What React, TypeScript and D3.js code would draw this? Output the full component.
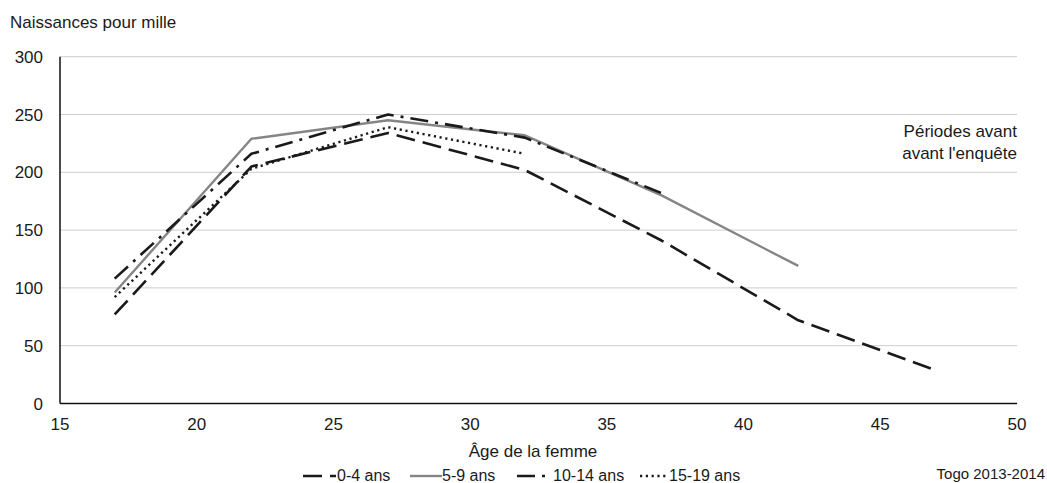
import * as d3 from 'd3';

const ages = [17, 22, 27, 32, 37, 42, 47];
const periodes = ['0-4 ans', '5-9 ans', '10-14 ans', '15-19 ans'];
const serie0_4 = [77, 205, 234, 202, 141, 72, 29];
const serie5_9 = [96, 229, 245, 232, 180, 119];
const serie10_14 = [108, 216, 250, 230, 182];
const serie15_19 = [92, 203, 239, 216];
const yTicks = [0, 50, 100, 150, 200, 250, 300];
const xTicks = [15, 20, 25, 30, 35, 40, 45, 50];

const W = 1047;
const H = 483;
const FONT = '"Liberation Sans", Arial, sans-serif';

const styles = [
  { stroke: '#1a1a1a', dash: '19,8', width: 2.6 },
  { stroke: '#858585', dash: null, width: 2.4 },
  { stroke: '#1a1a1a', dash: '18,7,3,7', width: 2.6 },
  { stroke: '#1a1a1a', dash: '2.2,3.6', width: 2.4 },
];

// legend layout: sample start, sample end, text start
const legendPos = [
  [303, 336, 337],
  [410, 442, 442],
  [517, 549, 553],
  [640, 669, 669],
];

export default function App() {
  const x = d3.scaleLinear().domain([15, 50]).range([60, 1017]);
  const y = d3.scaleLinear().domain([0, 300]).range([403.5, 56.7]);

  const series = [serie0_4, serie5_9, serie10_14, serie15_19];
  const line = d3
    .line<[number, number]>()
    .x((d) => x(d[0]))
    .y((d) => y(d[1]));

  return (
    <svg
      width={W}
      height={H}
      style={{ position: 'absolute', left: 0, top: 0, background: '#fff' }}
      fontFamily={FONT}
    >
      <text x={10} y={28} fontSize={17} fill="#1a1a1a">
        Naissances pour mille
      </text>

      {/* grid */}
      {yTicks.slice(1).map((t) => (
        <line
          key={t}
          x1={x(15)}
          x2={x(50)}
          y1={y(t)}
          y2={y(t)}
          stroke="#cdcdcd"
          strokeWidth={1}
        />
      ))}

      {/* axes */}
      <line x1={x(15)} x2={x(15)} y1={y(300)} y2={y(0)} stroke="#111" strokeWidth={1.5} />
      <line x1={x(15)} x2={x(50)} y1={y(0)} y2={y(0)} stroke="#111" strokeWidth={1.5} />

      {yTicks.map((t) => (
        <text key={t} x={43} y={y(t) + 6} textAnchor="end" fontSize={17} fill="#1a1a1a">
          {t}
        </text>
      ))}
      {xTicks.map((t) => (
        <text key={t} x={x(t)} y={430} textAnchor="middle" fontSize={17} fill="#1a1a1a">
          {t}
        </text>
      ))}

      <text x={533} y={457} textAnchor="middle" fontSize={17} fill="#1a1a1a">
        Âge de la femme
      </text>

      {/* series */}
      {series.map((s, i) => (
        <path
          key={periodes[i]}
          d={line(s.map((v, j) => [ages[j], v] as [number, number])) || ''}
          fill="none"
          stroke={styles[i].stroke}
          strokeWidth={styles[i].width}
          strokeDasharray={styles[i].dash || undefined}
          strokeLinejoin="round"
        />
      ))}

      <text x={1017} y={137} textAnchor="end" fontSize={17} fill="#1a1a1a">
        Périodes avant
      </text>
      <text x={1017} y={159} textAnchor="end" fontSize={17} fill="#1a1a1a">
        avant l'enquête
      </text>

      {/* legend */}
      {periodes.map((p, i) => (
        <g key={p}>
          <line
            x1={legendPos[i][0]}
            x2={legendPos[i][1]}
            y1={476}
            y2={476}
            stroke={styles[i].stroke}
            strokeWidth={styles[i].width}
            strokeDasharray={styles[i].dash || undefined}
          />
          <text x={legendPos[i][2]} y={481} fontSize={16} fill="#1a1a1a">
            {p}
          </text>
        </g>
      ))}

      <text x={1045} y={479} textAnchor="end" fontSize={15} fill="#1a1a1a">
        Togo 2013-2014
      </text>
    </svg>
  );
}
